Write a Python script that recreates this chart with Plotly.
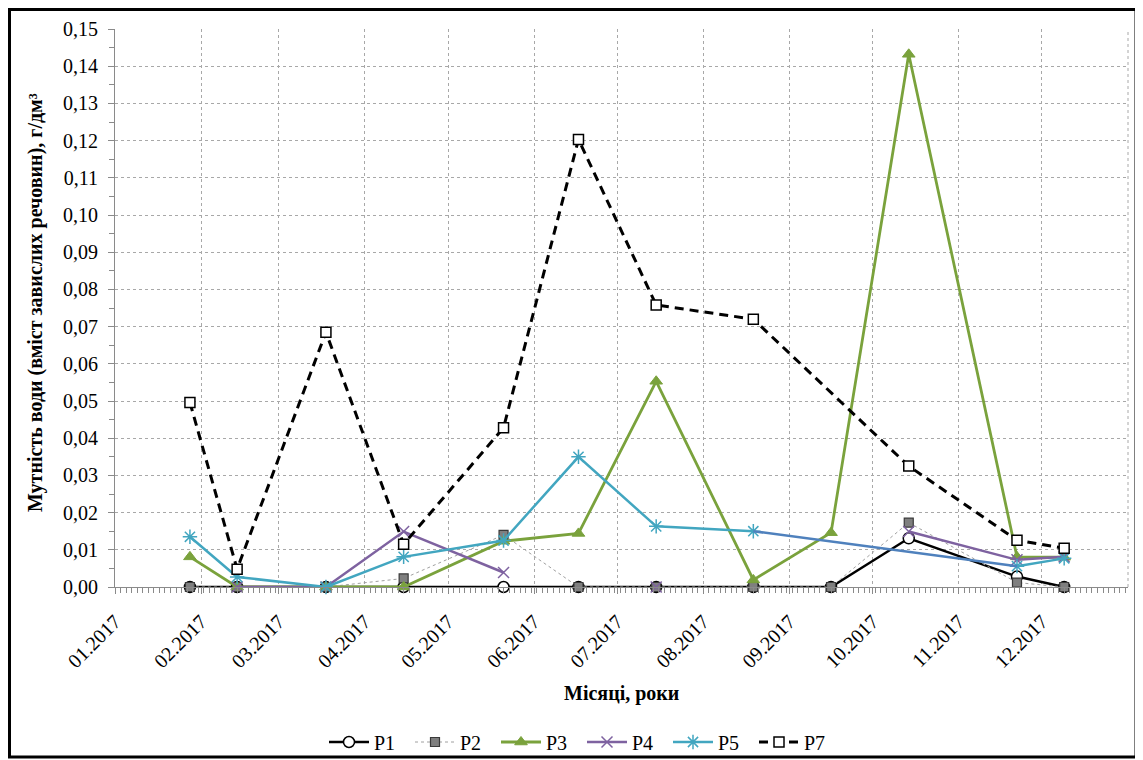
import plotly.graph_objects as go

# ---- data ----
dates = ["2017-01-28", "2017-02-14", "2017-03-18", "2017-04-15", "2017-05-21", "2017-06-17",
         "2017-07-15", "2017-08-19", "2017-09-16", "2017-10-14", "2017-11-22", "2017-12-09"]

p1 = [0, 0, 0, 0, 0, 0, 0, 0, 0, 0.0131, 0.0028, 0]
p2 = [0, 0, 0, 0.0023, 0.0140, 0, 0, 0, 0, 0.0173, 0.0012, 0]
p3 = [0.0081, 0, 0, 0, 0.0123, 0.0144, 0.0553, 0.0019, 0.0146, 0.1432, 0.0081, 0.0080]
p4 = [None, 0, 0, 0.0149, 0.0039, None, 0, None, None, 0.0149, 0.0073, 0.0081]
p5 = [0.0135, 0.0027, 0, 0.0081, 0.0125, 0.0350, 0.0163, 0.0150, None, None, 0.0056, 0.0077]
p6 = [None, None, None, None, None, None, None, 0.0150, None, None, 0.0056, None]
p7 = [0.0496, 0.0048, 0.0685, 0.0115, 0.0428, 0.1203, 0.0758, 0.0720, None, 0.0325, 0.0126, 0.0104]

month_ticks = ["2017-01-01", "2017-02-01", "2017-03-01", "2017-04-01", "2017-05-01", "2017-06-01",
               "2017-07-01", "2017-08-01", "2017-09-01", "2017-10-01", "2017-11-01", "2017-12-01"]
month_labels = ["01.2017", "02.2017", "03.2017", "04.2017", "05.2017", "06.2017",
                "07.2017", "08.2017", "09.2017", "10.2017", "11.2017", "12.2017"]

y_title = "Мутність води (вміст завислих речовин), г/дм³"
x_title = "Місяці, роки"

FONT = "Liberation Serif"

# page has an 8px body margin; geometry below is given in window pixels
OFF = 8
W, H = 1143 - OFF, 760 - OFF
L, R, T, B = 115, 1128, 29, 587          # plot area in window px
def px(xp):
    return (xp - L) / (R - L)
def py(yp):
    return (B - yp) / (B - T)

fig = go.Figure()

fig.add_trace(go.Scatter(
    x=dates, y=p1, name="P1", mode="lines+markers", cliponaxis=False,
    line=dict(color="#000000", width=2.5),
    marker=dict(symbol="circle", size=11, color="#ffffff", line=dict(color="#000000", width=1.5))))

fig.add_trace(go.Scatter(
    x=dates, y=p2, name="P2", mode="lines+markers", cliponaxis=False,
    line=dict(color="#a0a0a0", width=1, dash="dot"),
    marker=dict(symbol="square", size=9, color="#7f7f7f", line=dict(color="#3a3a3a", width=1.2))))

fig.add_trace(go.Scatter(
    x=dates, y=p3, name="P3", mode="lines+markers", cliponaxis=False,
    line=dict(color="#7aa23c", width=2.8),
    marker=dict(symbol="triangle-up", size=11, color="#7aa23c", line=dict(color="#7aa23c", width=1))))

fig.add_trace(go.Scatter(
    x=dates, y=p4, name="P4", mode="lines+markers", cliponaxis=False, connectgaps=False,
    line=dict(color="#7e62a0", width=2.5),
    marker=dict(symbol="x-thin-open", size=11, color="#7e62a0", line=dict(color="#7e62a0", width=1.5))))

fig.add_trace(go.Scatter(
    x=dates, y=p5, name="P5", mode="lines+markers", cliponaxis=False, connectgaps=False,
    line=dict(color="#42a6c0", width=2.5),
    marker=dict(symbol="asterisk-open", size=12, color="#42a6c0", line=dict(color="#42a6c0", width=1.5))))

fig.add_trace(go.Scatter(
    x=dates, y=p6, name="P6", mode="lines", cliponaxis=False, connectgaps=True, showlegend=False,
    line=dict(color="#4f81bd", width=2.5), hoverinfo="skip"))

fig.add_trace(go.Scatter(
    x=dates, y=p7, name="P7", mode="lines+markers", cliponaxis=False, connectgaps=True,
    line=dict(color="#000000", width=3, dash="9px,6px"),
    marker=dict(symbol="square", size=10, color="#ffffff", line=dict(color="#000000", width=1.5))))

fig.update_layout(
    width=W, height=H,
    margin=dict(l=L - OFF, r=(1143 - R), t=T - OFF, b=(760 - B), autoexpand=False),
    paper_bgcolor="#ffffff", plot_bgcolor="#ffffff",
    separators=", ",
    font=dict(family=FONT, size=20, color="#000000"),
    showlegend=True,
    legend=dict(orientation="h", x=px(582), xanchor="center", y=py(742), yanchor="middle",
                font=dict(family=FONT, size=20, color="#000000"),
                entrywidth=31, entrywidthmode="pixels", itemwidth=40,
                bgcolor="rgba(0,0,0,0)"),
)

fig.update_xaxes(
    type="date", range=["2017-01-01", "2018-01-01"],
    tickmode="array", tickvals=month_ticks, ticktext=month_labels, tickangle=-45,
    tickfont=dict(family=FONT, size=20, color="#000000"),
    ticklabelstandoff=8,
    showline=True, linecolor="#8a8a8a", linewidth=1.2,
    ticks="outside", ticklen=6, tickcolor="#8a8a8a", tickwidth=1,
    showgrid=True, gridcolor="#a8a8a8", griddash="dot", gridwidth=1,
    zeroline=False,
    minor=dict(dtick=2 * 86400000, tick0="2017-01-01", ticks="outside", ticklen=5,
               tickcolor="#8a8a8a", tickwidth=1, showgrid=False),
)

fig.update_yaxes(
    range=[0, 0.15], dtick=0.01, tick0=0, tickformat=".2f",
    tickfont=dict(family=FONT, size=20, color="#000000"),
    showline=True, linecolor="#8a8a8a", linewidth=1.2,
    ticks="outside", ticklen=6, tickcolor="#8a8a8a", tickwidth=1,
    ticklabelstandoff=6,
    showgrid=True, gridcolor="#a8a8a8", griddash="dot", gridwidth=1,
    zeroline=False,
    minor=dict(dtick=0.005, ticks="outside", ticklen=5, tickcolor="#8a8a8a", tickwidth=1, showgrid=False),
)

# axis titles
fig.add_annotation(text="<b>" + x_title + "</b>", xref="paper", yref="paper",
                   x=0.5, y=py(693), xanchor="center", yanchor="middle", showarrow=False,
                   font=dict(family=FONT, size=20, color="#000000"))
fig.add_annotation(text="<b>" + y_title + "</b>", xref="paper", yref="paper",
                   x=px(35), y=py(303), xanchor="center", yanchor="middle", textangle=-90,
                   showarrow=False, font=dict(family=FONT, size=20, color="#000000"))

# right edge of plot area (dotted) and outer frame
fig.add_shape(type="line", xref="paper", yref="paper", x0=1, x1=1, y0=0, y1=1,
              line=dict(color="#a8a8a8", width=1, dash="dot"), layer="below")
fig.add_shape(type="rect", xref="paper", yref="paper",
              x0=px(9.5), x1=px(1136), y0=py(757), y1=py(9.5),
              line=dict(color="#000000", width=3), fillcolor="rgba(0,0,0,0)")

fig.write_html("out.html")
